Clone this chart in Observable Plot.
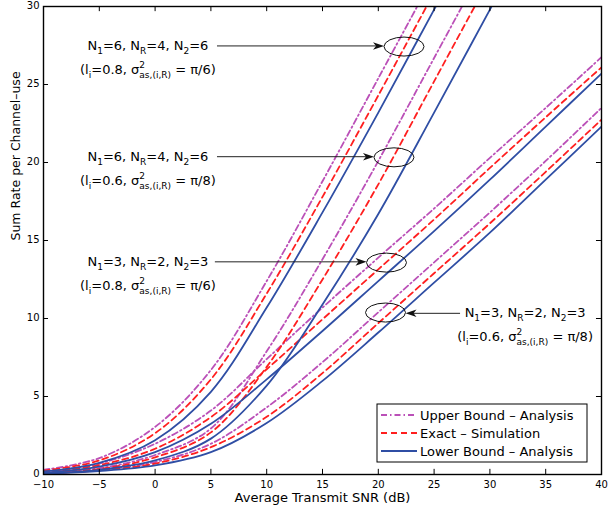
<!DOCTYPE html>
<html><head><meta charset="utf-8">
<script src="https://cdn.jsdelivr.net/npm/d3@7"></script>
<script src="https://cdn.jsdelivr.net/npm/@observablehq/plot@0.6"></script>
<style>body{margin:0;background:#fff} #chart{width:608px;height:509px}</style>
</head><body><div id="chart"></div>
<script>
// x values (Average Transmit SNR, dB)
const snr = [-10, -5, 0, 5, 10, 15, 20, 25, 30, 35, 40];
const xTicks = [-10, -5, 0, 5, 10, 15, 20, 25, 30, 35, 40];
const yTicks = [0, 5, 10, 15, 20, 25, 30];

// Config A: N1=6, NR=4, N2=6 (li=0.8, pi/6)
const aUpper = [0.3, 1.05, 3.05, 6.7, 12.4, 18.8, 25.4, 32.0, null, null, null];
const aExact = [0.25, 0.9, 2.65, 6.1, 11.6, 17.8, 24.3, 30.9, null, null, null];
const aLower = [0.2, 0.75, 2.2, 5.3, 10.7, 16.8, 23.2, 29.8, 36.4, null, null];
// Config B: N1=6, NR=4, N2=6 (li=0.6, pi/8)
const bUpper = [0.1, 0.4, 1.25, 2.95, 7.9, 13.8, 20.1, 26.7, 33.3, null, null];
const bExact = [0.09, 0.35, 1.1, 2.7, 6.9, 12.5, 18.6, 25.2, 31.8, null, null];
const bLower = [0.07, 0.3, 0.9, 2.3, 5.7, 10.9, 16.7, 23.2, 29.8, 36.4, null];
// Config C: N1=3, NR=2, N2=3 (li=0.8, pi/6)
const cUpper = [0.15, 0.7, 1.97, 4.1, 7.4, 10.7, 13.9, 17.05, 20.3, 23.5, 26.75];
const cExact = [0.12, 0.6, 1.65, 3.68, 6.75, 9.95, 13.15, 16.35, 19.65, 22.9, 26.1];
const cLower = [0.1, 0.5, 1.43, 3.25, 6.1, 9.2, 12.4, 15.6, 18.9, 22.3, 25.7];
// Config D: N1=3, NR=2, N2=3 (li=0.6, pi/8)
const dUpper = [0.07, 0.3, 0.8, 1.97, 4.3, 7.2, 10.4, 13.6, 16.8, 20.1, 23.5];
const dExact = [0.06, 0.26, 0.7, 1.75, 3.7, 6.5, 9.7, 12.9, 16.1, 19.4, 22.75];
const dLower = [0.05, 0.22, 0.58, 1.43, 3.3, 6.0, 9.1, 12.3, 15.5, 18.9, 22.3];

const legendLabels = ["Upper Bound \u2013 Analysis", "Exact \u2013 Simulation", "Lower Bound \u2013 Analysis"];
const xTitle = "Average Transmit SNR (dB)";
const yTitle = "Sum Rate per Channel\u2013use";

// annotations
const labelN1 = ["6", "6", "3", "3"];
const labelNR = ["4", "4", "2", "2"];
const labelN2 = ["6", "6", "3", "3"];
const labelLi = ["0.8", "0.6", "0.8", "0.6"];
const labelSigma = ["\u03c0/6", "\u03c0/8", "\u03c0/6", "\u03c0/8"];
const labelX = [-0.6, -0.6, -0.6, 33.2];
const labelY = [27.44, 20.34, 13.6, 10.3];
const arrowStartX = [5.59, 5.59, 5.4, 27.37];
const ellipseX = [22.35, 21.45, 20.78, 20.69];
const ellipseY = [27.4, 20.3, 13.55, 10.35];

const colors = {upper: "#bb50b8", exact: "#ff1f1f", lower: "#2f4ea4"};
const dashes = {upper: "6,3,1.5,3", exact: "6,4", lower: null};

const series = [
  {cfg: "A", kind: "upper", values: aUpper}, {cfg: "A", kind: "exact", values: aExact}, {cfg: "A", kind: "lower", values: aLower},
  {cfg: "B", kind: "upper", values: bUpper}, {cfg: "B", kind: "exact", values: bExact}, {cfg: "B", kind: "lower", values: bLower},
  {cfg: "C", kind: "upper", values: cUpper}, {cfg: "C", kind: "exact", values: cExact}, {cfg: "C", kind: "lower", values: cLower},
  {cfg: "D", kind: "upper", values: dUpper}, {cfg: "D", kind: "exact", values: dExact}, {cfg: "D", kind: "lower", values: dLower}
];
const rows = series.flatMap(s => snr.map((x, i) => ({x, y: s.values[i], cfg: s.cfg, kind: s.kind})).filter(d => d.y != null));

const lineMark = kind => Plot.line(rows.filter(d => d.kind === kind), {
  x: "x", y: "y", z: "cfg", stroke: colors[kind], strokeWidth: 1.8,
  strokeDasharray: dashes[kind], curve: "catmull-rom", clip: true
});

const plot = Plot.plot({
  width: 608, height: 509,
  marginLeft: 43, marginRight: 7, marginTop: 6, marginBottom: 35,
  style: {fontFamily: "'DejaVu Sans', sans-serif", fontSize: "10px", color: "#000", background: "#fff"},
  x: {domain: [-10, 40], label: null},
  y: {domain: [0, 30], label: null},
  marks: [
    lineMark("upper"),
    lineMark("exact"),
    lineMark("lower"),
    Plot.axisX({ticks: xTicks, tickSize: 0, tickPadding: 6, label: null}),
    Plot.axisY({ticks: yTicks, tickSize: 0, tickPadding: 4, label: null, dy: -1}),
    Plot.ruleX(xTicks, {x: d => d, y1: 0, y2: 0.33, stroke: "#000"}),
    Plot.ruleX(xTicks, {x: d => d, y1: 29.67, y2: 30, stroke: "#000"}),
    Plot.ruleY(yTicks, {y: d => d, x1: -10, x2: -9.55, stroke: "#000"}),
    Plot.ruleY(yTicks, {y: d => d, x1: 39.55, x2: 40, stroke: "#000"}),
    Plot.frame({stroke: "#000", strokeWidth: 1.4}),
    Plot.text([xTitle], {frameAnchor: "bottom", dy: 23, lineAnchor: "middle", fontSize: 13, fill: "#000"}),
    Plot.text([yTitle], {frameAnchor: "left", dx: -28, rotate: -90, lineAnchor: "middle", fontSize: 12.5, fill: "#000"})
  ]
});
document.getElementById("chart").appendChild(plot);

const sx = plot.scale("x"), sy = plot.scale("y");
const svg = d3.select(plot);
const g = svg.append("g").attr("font-family", "'DejaVu Sans', sans-serif");

// ellipses and arrows
const rx = 20, ry = 9.5;
ellipseX.forEach((ex, i) => {
  const cx = sx.apply(ex), cy = sy.apply(ellipseY[i]);
  g.append("ellipse").attr("cx", cx).attr("cy", cy).attr("rx", rx).attr("ry", ry)
    .attr("fill", "none").attr("stroke", "#111").attr("stroke-width", 1);
  const x1 = sx.apply(arrowStartX[i]), ay = sy.apply(labelY[i]);
  const dir = x1 < cx ? 1 : -1;
  const x2 = cx - dir * rx;
  g.append("line").attr("x1", x1).attr("x2", x2 - dir * 6).attr("y1", ay).attr("y2", ay)
    .attr("stroke", "#222").attr("stroke-width", 1);
  g.append("path")
    .attr("d", `M${x2},${ay} L${x2 - dir * 11},${ay - 3.8} L${x2 - dir * 8},${ay} L${x2 - dir * 11},${ay + 3.8} Z`)
    .attr("fill", "#111");
});

// labels
function addLine(cx, y, parts) {
  const t = g.append("text").attr("x", cx).attr("y", y).attr("text-anchor", "middle")
    .attr("font-size", 13).attr("fill", "#000");
  let cur = 0;
  parts.forEach(([s, type]) => {
    const ts = t.append("tspan").text(s);
    let target = 0, size = 13, dx = 0;
    if (type === "sub") { target = 4; size = 9; }
    else if (type === "sup") { target = -6; size = 9; }
    else if (type === "subsup") { target = 4; size = 9; dx = -5.7; }
    ts.attr("dy", target - cur).attr("font-size", size);
    if (dx) ts.attr("dx", dx);
    cur = target;
  });
}
labelX.forEach((lx, i) => {
  const cx = sx.apply(lx), ay = sy.apply(labelY[i]);
  addLine(cx, ay + 4, [["N"], ["1", "sub"], ["=" + labelN1[i] + ", N"], ["R", "sub"], ["=" + labelNR[i] + ", N"], ["2", "sub"], ["=" + labelN2[i]]]);
  addLine(cx, ay + 28, [["(l"], ["i", "sub"], ["=" + labelLi[i] + ", \u03c3"], ["2", "sup"], ["as,(i,R)", "subsup"], [" = " + labelSigma[i] + ")"]]);
});

// legend
const lx1 = sx.apply(40) - 224, lx2 = sx.apply(40) - 14;
const ly2 = sy.apply(0) - 12, ly1 = ly2 - 58;
g.append("rect").attr("x", lx1).attr("y", ly1).attr("width", lx2 - lx1).attr("height", ly2 - ly1)
  .attr("fill", "#fff").attr("stroke", "#000").attr("stroke-width", 1);
["upper", "exact", "lower"].forEach((k, i) => {
  const yy = ly1 + 11 + i * 18;
  g.append("line").attr("x1", lx1 + 4).attr("x2", lx1 + 40).attr("y1", yy).attr("y2", yy)
    .attr("stroke", colors[k]).attr("stroke-width", 1.8).attr("stroke-dasharray", dashes[k]);
  g.append("text").attr("x", lx1 + 43).attr("y", yy).attr("dy", "0.35em").attr("text-anchor", "start")
    .attr("font-size", 13).attr("fill", "#000").text(legendLabels[i]);
});
</script></body></html>
